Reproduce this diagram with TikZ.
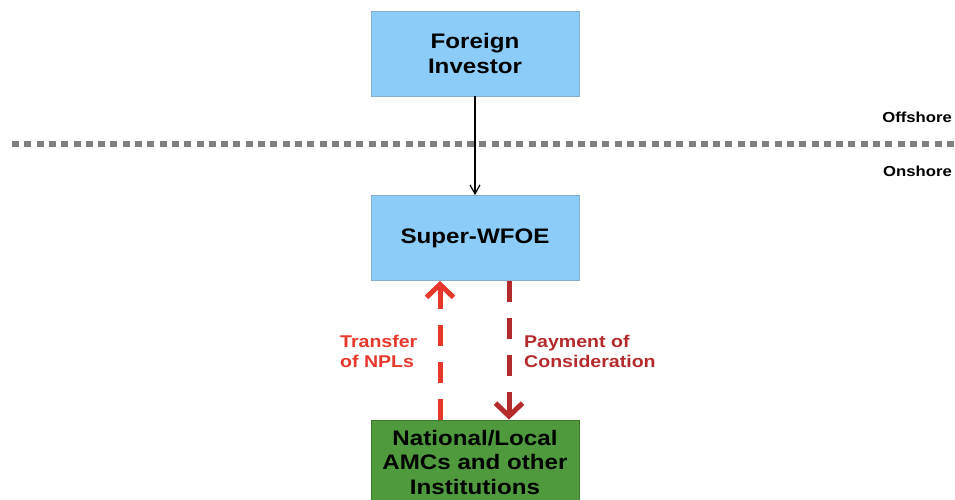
\documentclass[tikz,border=0pt]{standalone}
\usepackage{fontspec}
\setmainfont{Liberation Sans}[FakeStretch=1.15]
\usepackage{xcolor}
\usetikzlibrary{arrows.meta,positioning}

\definecolor{boxblue}{HTML}{8BCDF8}
\definecolor{boxline}{HTML}{8AAFC8}
\definecolor{amcgreen}{HTML}{4E9A3C}
\definecolor{amcline}{HTML}{3C7A2E}
\definecolor{nplred}{HTML}{E8372B}
\definecolor{payred}{HTML}{B52A2A}

\begin{document}
\begin{tikzpicture}[x=1pt,y=1pt,>={Straight Barb[length=9pt,width=10pt]},
  entity/.style={rectangle,draw=boxline,fill=boxblue,line width=0.8pt,minimum width=208pt,minimum height=85pt,inner sep=0pt,align=center,font=\fontsize{21}{24.5}\selectfont\bfseries},
  flow/.style={line width=5pt,dash pattern=on 21pt off 16pt,-{Straight Barb[length=13pt,width=27pt]}},
  flowtext/.style={inner sep=0pt,align=left,font=\fontsize{17}{20}\selectfont\bfseries},
  side/.style={inner sep=0pt,anchor=east,font=\fontsize{14.5}{17}\selectfont\bfseries}]

    \useasboundingbox (0,0) rectangle (955,499);

    % Offshore / onshore divide
    \coordinate (sepL) at (12,355);
    \coordinate (sepR) at (955,355);
    \draw[line width=5.5pt,color=black!50,dash pattern=on 7pt off 5.3pt] (sepL) -- (sepR);
    \node [side] at (952,381.5) (off) {Offshore};
    \node [side] at (952,328) (on) {Onshore};

    % The entities
    \node [entity] at (475,445.5) (inv) {Foreign\\Investor};
    \node [entity] at (475,261) (wfoe) {Super-WFOE};
    \node [entity,fill=amcgreen,draw=amcline,minimum height=84pt] at (475,37) (amc) {National/Local\\AMCs and other\\Institutions};

    % Flows
    \path[->,line width=1.2pt]
    (inv) edge (wfoe);

    \path[flow,color=nplred]
    ([xshift=-35pt]amc.north) edge ([xshift=-35pt]wfoe.south);
    \path[flow,color=payred]
    ([xshift=34pt]wfoe.south) edge ([xshift=34pt]amc.north);

    \node [flowtext,text=nplred,anchor=west] at (340,148) (npl) {Transfer\\of NPLs};
    \node [flowtext,text=payred,anchor=west] at (524,148) (pay) {Payment of\\Consideration};

\end{tikzpicture}
\end{document}
